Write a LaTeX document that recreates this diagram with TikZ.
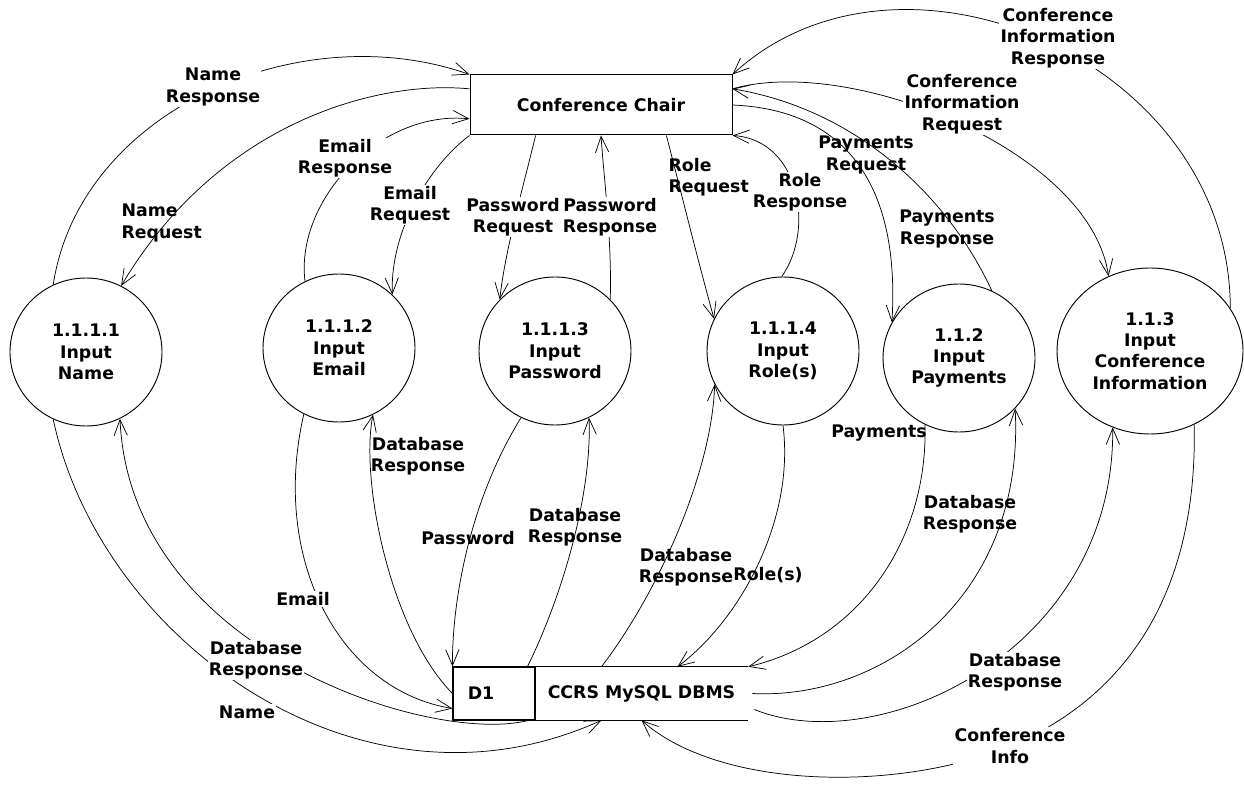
\documentclass[tikz,border=0pt]{standalone}
\usepackage{fontspec}
\setmainfont{DejaVu Sans}
\usetikzlibrary{shapes.geometric,arrows.meta,calc}
\begin{document}
\begin{tikzpicture}[x=0.75pt,y=-0.75pt,
  every node/.style={font=\bfseries\fontsize{13}{16}\selectfont},
  proc/.style={ellipse,draw,line width=0.7pt,minimum width=114pt,minimum height=111pt,inner sep=0pt,align=center},
  bigproc/.style={proc,minimum width=139.5pt,minimum height=124.5pt},
  ent/.style={rectangle,draw,line width=0.75pt,minimum width=196.5pt,minimum height=45pt},
  flow/.style={line width=0.55pt,-{Straight Barb[length=12pt,width=10pt]}},
  lbl/.style={align=center,inner sep=1pt},
  lblw/.style={lbl,fill=white}]
\useasboundingbox (0,0) rectangle (1244,787);
% external entity
\node[ent] (chair) at (601,105) {Conference Chair};
% processes
\node[proc] (c1) at (86,352) {1.1.1.1\\Input\\Name};
\node[proc] (c2) at (339,348) {1.1.1.2\\Input\\Email};
\node[proc] (c3) at (555,351) {1.1.1.3\\Input\\Password};
\node[proc] (c4) at (783,351) {1.1.1.4\\Input\\Role(s)};
\node[proc] (c5) at (959,358) {1.1.2\\Input\\Payments};
\node[bigproc] (c6) at (1150,351) {1.1.3\\Input\\Conference\\Information};
% data store
\node[draw,line width=0.8pt,minimum width=61.5pt,minimum height=39.75pt,inner sep=0pt] (d1) at (494,693.5) {};
\node (d1t) at (481,693.5) {D1};
\node[minimum width=159.75pt,minimum height=39.75pt,inner sep=0pt] (dbms) at (641.5,693.5) {CCRS MySQL DBMS};
\draw[line width=0.8pt] (dbms.north west) -- (dbms.north east);
\draw[line width=0.8pt] (dbms.south west) -- (dbms.south east);
% upper flows
\draw[flow] (c1.116) .. controls (80,110) and (300,15) .. (chair.north west);
\draw[flow] (chair.173) .. controls (380,80) and (220,120) .. (c1.62);
\draw[flow] (c2.117) .. controls (295,200) and (380,110) .. (chair.186);
\draw[flow] (chair.south west) .. controls (430,165) and (390,230) .. (c2.45);
\draw[flow] (chair.205) .. controls (525,180) and (505,250) .. (c3.137);
\draw[flow] (c3.43) .. controls (612,240) and (604,180) .. (chair.south);
\draw[flow] (chair.335) .. controls (682,196) and (697,257) .. (c4.155);
\draw[flow] (c4.91) .. controls (815,230) and (800,140) .. (chair.south east);
\draw[flow] (chair.east) .. controls (850,110) and (900,190) .. (c5.152);
\draw[flow] (c5.64) .. controls (950,200) and (860,110) .. (chair.7);
\draw[flow] (chair.7) .. controls (850,55) and (1090,150) .. (c6.119);
\draw[flow] (c6.28) .. controls (1230,60) and (900,-80) .. (chair.north east);
% lower flows
\draw[flow] (c1.244) .. controls (100,640) and (360,830) .. ($(dbms.south)+(-40,0)$);
\draw[flow] ($(d1.south)+(34,0)$) .. controls (430,745) and (130,650) .. (c1.297);
\draw[flow] (c2.242) .. controls (270,560) and (340,690) .. ($(d1.west)+(0,15)$);
\draw[flow] (d1.west) .. controls (390,630) and (360,480) .. (c2.297);
\draw[flow] (c3.243) .. controls (470,500) and (452,600) .. (d1.north west);
\draw[flow] ($(d1.north east)+(-8,0)$) .. controls (565,590) and (592,490) .. (c3.297);
\draw[flow] ($(dbms.north)+(-40,0)$) .. controls (660,590) and (712,470) .. (c4.206);
\draw[flow] (c4.270) .. controls (795,520) and (740,620) .. ($(dbms.north)+(36,0)$);
\draw[flow] (c5.243) .. controls (928,540) and (860,640) .. (dbms.north east);
\draw[flow] ($(dbms.east)+(4,0)$) .. controls (880,700) and (1025,600) .. (c5.318);
\draw[flow] ($(dbms.east)+(6,16)$) .. controls (880,760) and (1115,650) .. (c6.244);
\draw[flow] (c6.301) .. controls (1198,600) and (1120,700) .. (1010,746) .. controls (900,792) and (720,790) .. (dbms.south);
% labels
\node[lblw] (lNameResp) at (213,87) {Name\\Response};
\node[lbl,anchor=west,align=left] (lNameReq) at (120,223) {Name\\Request};
\node[lblw] (lEmailResp) at (345,158) {Email\\Response};
\node[lblw] (lEmailReq) at (410,205) {Email\\Request};
\node[lblw] (lPwReq) at (513,217) {Password\\Request};
\node[lblw] (lPwResp) at (610,217) {Password\\Response};
\node[lbl,anchor=west,align=left] (lRoleReq) at (667,177) {Role\\Request};
\node[lblw] (lRoleResp) at (800,192) {Role\\Response};
\node[lbl] (lPayReq) at (866,155) {Payments\\Request};
\node[lbl] (lPayResp) at (947,229) {Payments\\Response};
\node[lblw] (lCIReq) at (962,104) {Conference\\Information\\Request};
\node[lblw] (lCIResp) at (1058,38) {Conference\\Information\\Response};
\node[lbl] (lDB2) at (418,456) {Database\\Response};
\node[lbl] (lPw) at (468,538) {Password};
\node[lbl] (lDB3) at (575,527) {Database\\Response};
\node[lblw] (lEmail) at (303,599) {Email};
\node[lblw] (lDB1) at (256,660) {Database\\Response};
\node[lblw] (lName) at (247,712) {Name};
\node[lbl] (lDB4) at (686,567) {Database\\Response};
\node[lbl] (lRoles) at (768,575) {Role(s)};
\node[lbl] (lPay) at (879,433) {Payments};
\node[lbl] (lDB5) at (970,514) {Database\\Response};
\node[lblw] (lDB6) at (1015,672) {Database\\Response};
\node[lblw] (lCI) at (1010,746) {Conference\\Info};
\end{tikzpicture}
\end{document}
